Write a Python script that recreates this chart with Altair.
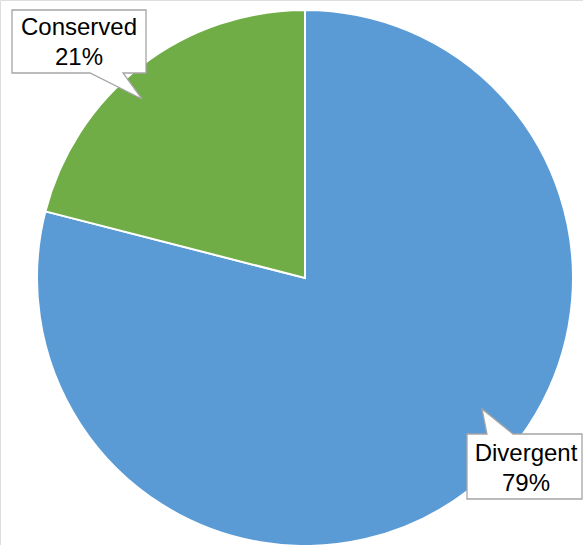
import altair as alt
import pandas as pd

categories = ["Divergent", "Conserved"]
percents = [79, 21]
colors = ["#5B9BD5", "#70AD47"]
order_idx = [0, 1]

df = pd.DataFrame({"category": categories, "value": percents, "idx": order_idx})

base = alt.Chart(df)

pie = base.mark_arc(radius=268, stroke="white", strokeWidth=2).encode(
    theta=alt.Theta("value:Q", stack=True),
    color=alt.Color("category:N", scale=alt.Scale(domain=categories, range=colors), legend=None),
    order=alt.Order("idx:Q"),
    x=alt.value(305),
    y=alt.value(278),
)

def callout(cat, ax, ay, path, tx, ty):
    box = base.transform_filter(alt.datum.category == cat).mark_point(
        shape=path, size=4, filled=True, fill="white", stroke="#A5A5A5",
        strokeWidth=1.3, opacity=1
    ).encode(x=alt.value(ax), y=alt.value(ay))
    txt = base.transform_filter(alt.datum.category == cat).transform_calculate(
        label="datum.category + '\\n' + datum.value + '%'"
    ).mark_text(
        font="Liberation Sans", fontSize=24, color="black", align="center",
        baseline="alphabetic", lineBreak="\n", lineHeight=30
    ).encode(text="label:N", x=alt.value(tx), y=alt.value(ty))
    return box + txt

c1 = callout("Conserved", 12, 10, "M0,0H134V63H111L130,89L78,63H0Z", 79, 35)
c2 = callout("Divergent", 467, 434, "M0,0H20L15,-25L46,0H115V65H0Z", 526, 461)

chart = (pie + c1 + c2).properties(
    width=583, height=545, padding=0, autosize=alt.AutoSizeParams(type="none")
).configure_view(stroke=None).configure(background="white")

chart.save("out.html", embed_options={"renderer": "svg", "actions": False})
